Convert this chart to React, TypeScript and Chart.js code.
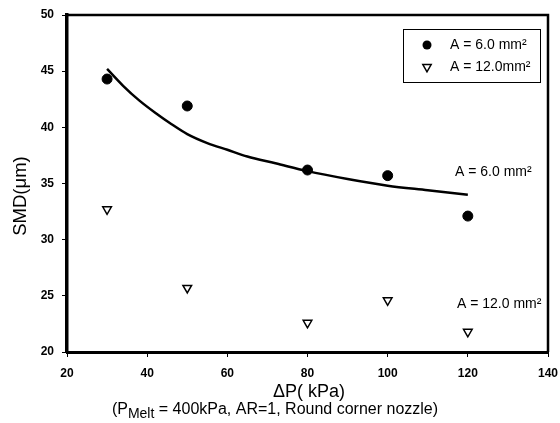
import React, { useEffect, useRef } from 'react';
import { Chart, registerables } from 'chart.js';

Chart.register(...registerables);

// Measured droplet size versus pressure difference
const pressure = [30, 50, 80, 100, 120];
const smdArea6 = [44.3, 41.9, 36.2, 35.7, 32.1];
const smdArea12 = [32.7, 25.7, 22.6, 24.6, 21.8];

// Fitted trend for the 6.0 mm² nozzle
const fitPressure = [30, 34, 38, 42, 46, 50, 55, 60, 65, 72, 80, 90, 100, 110, 120];
const fitSmd = [45.2, 43.7, 42.4, 41.3, 40.3, 39.4, 38.6, 38.0, 37.4, 36.8, 36.1, 35.4, 34.8, 34.4, 34.0];

const xTicks = [20, 40, 60, 80, 100, 120, 140];
const yTicks = [20, 25, 30, 35, 40, 45, 50];

const legendLabels = ['A = 6.0 mm²', 'A = 12.0mm²'];
const curveLabels = ['A = 6.0 mm²', 'A = 12.0 mm²'];

const FONT = '"Liberation Sans", Arial, Helvetica, sans-serif';

const decorations = {
  id: 'decorations',
  afterDraw(chart: any) {
    const { ctx, chartArea } = chart;
    const { left, right, top, bottom } = chartArea;
    ctx.save();
    ctx.fillStyle = '#000';
    ctx.strokeStyle = '#000';

    // top and right frame
    ctx.lineWidth = 2.5;
    ctx.beginPath();
    ctx.moveTo(left, top);
    ctx.lineTo(right, top);
    ctx.lineTo(right, bottom);
    ctx.stroke();

    // legend box
    const bx = right - 145;
    const by = top + 14;
    ctx.lineWidth = 1;
    ctx.strokeRect(bx + 0.5, by + 0.5, 137, 53);
    ctx.beginPath();
    ctx.arc(bx + 24, by + 16, 4.5, 0, Math.PI * 2);
    ctx.fill();
    const tx = bx + 24;
    const ty = by + 38;
    const r = 4.8;
    ctx.lineWidth = 1.5;
    ctx.beginPath();
    ctx.moveTo(tx, ty + r);
    ctx.lineTo(tx - r * 0.866, ty - r / 2);
    ctx.lineTo(tx + r * 0.866, ty - r / 2);
    ctx.closePath();
    ctx.stroke();
    ctx.font = `14px ${FONT}`;
    ctx.textAlign = 'left';
    ctx.textBaseline = 'middle';
    ctx.fillText(legendLabels[0], bx + 47, by + 16);
    ctx.fillText(legendLabels[1], bx + 47, by + 38);

    // curve labels
    ctx.fillText(curveLabels[0], 455, 172);
    ctx.fillText(curveLabels[1], 457, 304);

    // y axis title
    ctx.save();
    ctx.translate(21, 196);
    ctx.rotate(-Math.PI / 2);
    ctx.textAlign = 'center';
    ctx.font = `18.5px ${FONT}`;
    ctx.fillText('SMD(\u03bcm)', 0, 0);
    ctx.restore();

    // x axis title
    ctx.textAlign = 'center';
    ctx.font = `18px ${FONT}`;
    ctx.fillText('\u0394P( kPa)', 309, 392);

    // operating conditions line with subscript
    const partA = '(P';
    const partB = 'Melt';
    const partC = ' = 400kPa, AR=1, Round corner nozzle)';
    const mainFont = `16px ${FONT}`;
    const subFont = `14px ${FONT}`;
    ctx.font = mainFont;
    const wA = ctx.measureText(partA).width;
    const wC = ctx.measureText(partC).width;
    ctx.font = subFont;
    const wB = ctx.measureText(partB).width;
    let x = 275 - (wA + wB + wC) / 2;
    ctx.textAlign = 'left';
    ctx.font = mainFont;
    ctx.fillText(partA, x, 410);
    x += wA;
    ctx.font = subFont;
    ctx.fillText(partB, x, 414);
    x += wB;
    ctx.font = mainFont;
    ctx.fillText(partC, x, 410);

    ctx.restore();
  },
};

export default function App() {
  const canvasRef = useRef<HTMLCanvasElement | null>(null);

  useEffect(() => {
    const canvas = canvasRef.current;
    if (!canvas) return;
    const chart = new Chart(canvas, {
      type: 'scatter',
      data: {
        datasets: [
          {
            label: legendLabels[0],
            data: pressure.map((p, i) => ({ x: p, y: smdArea6[i] })),
            showLine: false,
            pointStyle: 'circle',
            pointRadius: 5,
            backgroundColor: '#000',
            borderColor: '#000',
            borderWidth: 1,
          },
          {
            label: legendLabels[1],
            data: pressure.map((p, i) => ({ x: p, y: smdArea12[i] })),
            showLine: false,
            pointStyle: 'triangle',
            pointRotation: 180,
            pointRadius: 5,
            backgroundColor: '#fff',
            borderColor: '#000',
            borderWidth: 1.5,
          },
          {
            label: 'fit',
            data: fitPressure.map((p, i) => ({ x: p, y: fitSmd[i] })),
            showLine: true,
            pointRadius: 0,
            borderColor: '#000',
            borderWidth: 2.5,
            cubicInterpolationMode: 'monotone',
          },
        ],
      },
      options: {
        animation: false,
        responsive: false,
        devicePixelRatio: 1,
        layout: { padding: { top: 15, right: 12, left: 0, bottom: 0 } },
        plugins: {
          legend: { display: false },
          tooltip: { enabled: false },
        },
        scales: {
          x: {
            type: 'linear',
            min: 20,
            max: 140,
            afterFit: (s: any) => {
              s.height = 71;
              s.paddingLeft = 0;
              s.paddingRight = 0;
            },
            afterBuildTicks: (s: any) => {
              s.ticks = xTicks.map((v) => ({ value: v }));
            },
            grid: {
              drawOnChartArea: false,
              drawTicks: true,
              tickLength: 5,
              color: '#000',
              lineWidth: 1,
            },
            border: { display: true, color: '#000', width: 3 },
            ticks: {
              color: '#000',
              padding: 9,
              font: { family: FONT, size: 12, weight: 'bold' },
            },
          },
          y: {
            type: 'linear',
            min: 20,
            max: 50,
            afterFit: (s: any) => {
              s.width = 67;
              s.paddingTop = 0;
              s.paddingBottom = 0;
            },
            afterBuildTicks: (s: any) => {
              s.ticks = yTicks.map((v) => ({ value: v }));
            },
            grid: {
              drawOnChartArea: false,
              drawTicks: true,
              tickLength: 5,
              color: '#000',
              lineWidth: 1,
            },
            border: { display: true, color: '#000', width: 3.5 },
            ticks: {
              color: '#000',
              padding: 8,
              font: { family: FONT, size: 12, weight: 'bold' },
            },
          },
        },
      },
      plugins: [decorations],
    } as any);
    return () => chart.destroy();
  }, []);

  return (
    <div
      style={{
        position: 'absolute',
        left: 0,
        top: 0,
        width: 560,
        height: 423,
        background: '#fff',
      }}
    >
      <canvas ref={canvasRef} width={560} height={423} />
    </div>
  );
}
